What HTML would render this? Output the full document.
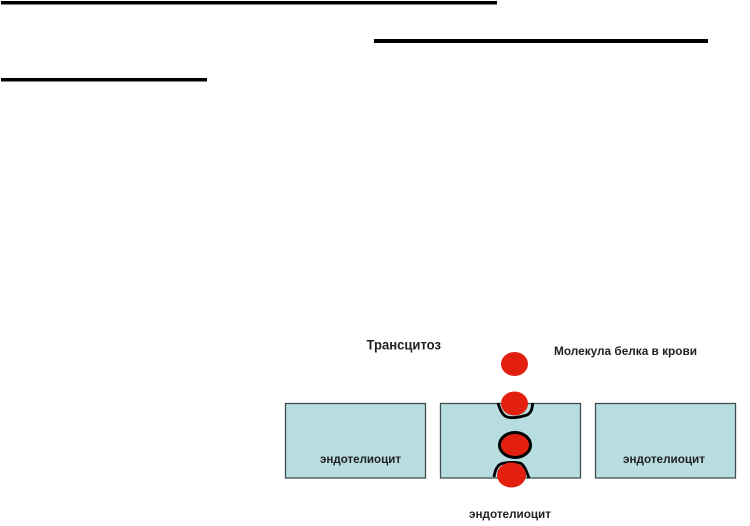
<!DOCTYPE html>
<html>
<head>
<meta charset="utf-8">
<style>
html,body{margin:0;padding:0;background:#fff;}
body{width:750px;height:526px;overflow:hidden;}
svg{display:block;}
text{font-family:"Liberation Sans",sans-serif;font-weight:bold;fill:#222;}
</style>
</head>
<body>
<svg width="750" height="526" viewBox="0 0 750 526" xmlns="http://www.w3.org/2000/svg">
<rect width="750" height="526" fill="#fff"/>
<rect x="1" y="1" width="496" height="3.5" fill="#000"/>
<rect x="374" y="39" width="334" height="4" fill="#000"/>
<rect x="1" y="78" width="206" height="3.5" fill="#000"/>

<g fill="#b8dde1" stroke="#3f4f4f" stroke-width="1.3">
<rect x="285.5" y="403.5" width="140" height="74.5"/>
<rect x="440.5" y="403.5" width="140" height="74.5"/>
<rect x="595.5" y="403.5" width="140" height="74.5"/>
</g>

<text x="366.5" y="349.5" font-size="13.5" textLength="74.5" lengthAdjust="spacingAndGlyphs">Трансцитоз</text>
<text x="554" y="355" font-size="12" textLength="143" lengthAdjust="spacingAndGlyphs">Молекула белка в крови</text>
<text x="320" y="463" font-size="11.5" textLength="81" lengthAdjust="spacingAndGlyphs">эндотелиоцит</text>
<text x="623" y="463" font-size="11.5" textLength="82" lengthAdjust="spacingAndGlyphs">эндотелиоцит</text>
<text x="469" y="518" font-size="11.5" textLength="82" lengthAdjust="spacingAndGlyphs">эндотелиоцит</text>

<path d="M498 403 C500 410 503 415 506 416.5 C511 419 521 417 527 415 C531 413 532.500 409 532.500 403" fill="none" stroke="#000" stroke-width="2.8"/>
<path d="M494 477 C495 470 497 465 502 463.5 C508 462 518 462 521 463.5 C525 466 527 473 529 478" fill="none" stroke="#000" stroke-width="2.8"/>

<ellipse cx="514.5" cy="364" rx="13.5" ry="12" fill="#e3200f"/>
<ellipse cx="514.5" cy="403.5" rx="13.5" ry="12" fill="#e3200f"/>
<ellipse cx="515" cy="445" rx="15.5" ry="12.5" fill="#e3200f" stroke="#000" stroke-width="3"/>
<ellipse cx="511.5" cy="475" rx="14.5" ry="12.5" fill="#e3200f"/>
</svg>
</body>
</html>
